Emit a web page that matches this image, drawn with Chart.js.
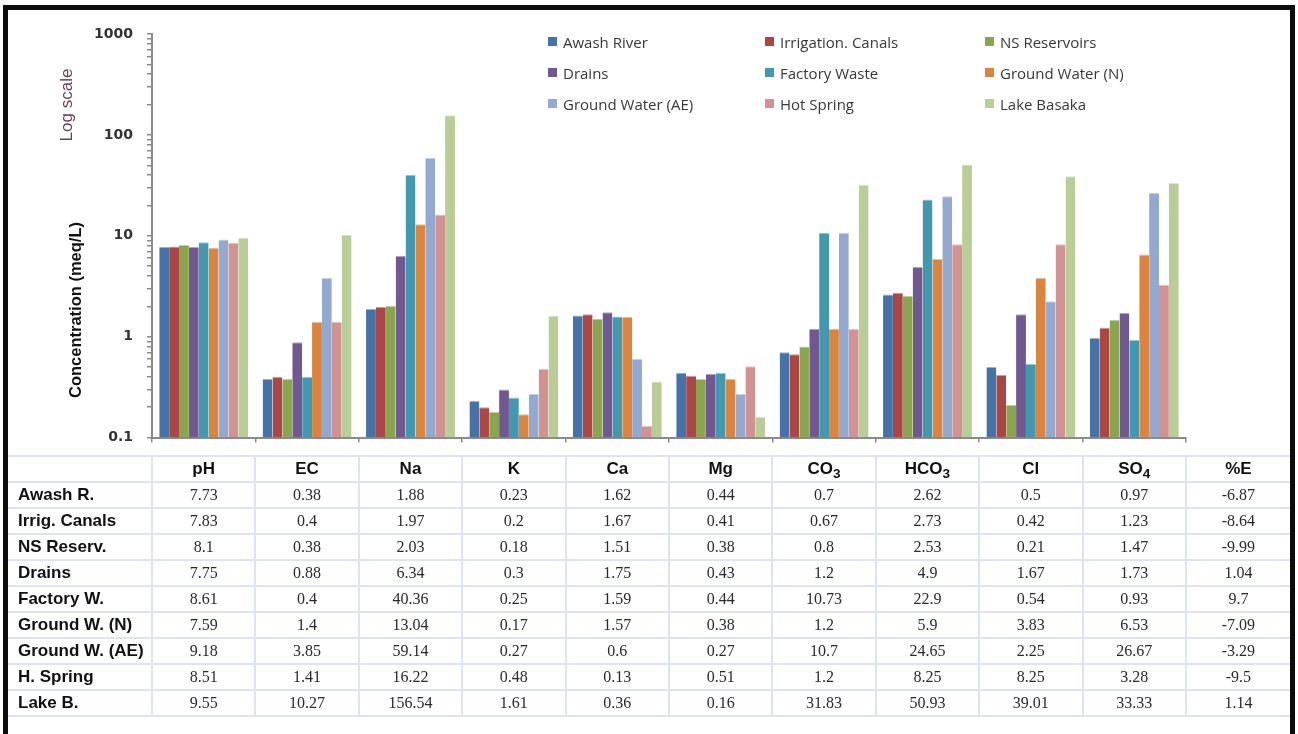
<!DOCTYPE html>
<html>
<head>
<meta charset="utf-8">
<script src="https://cdn.jsdelivr.net/npm/chart.js@4.4.1/dist/chart.umd.min.js"></script>
<style>
  html, body { margin: 0; padding: 0; background: #fff; }
  #page { position: relative; width: 1298px; height: 734px; overflow: hidden; background: #fff; }
  #chartBox { position: absolute; left: 0; top: 0; width: 1298px; height: 460px; }
  #frame { position: absolute; left: 3px; top: 5px; width: 1292px; height: 760px; box-sizing: border-box;
           border: 5px solid #0c0c0c; border-bottom: none; pointer-events: none; }
  .ytitle { position: absolute; white-space: nowrap; transform: translate(-50%, -50%) rotate(-90deg); }
  #yTitle { left: 75px; top: 310px; font: bold 16.5px "Liberation Sans", Arial, sans-serif; color: #111; }
  #logTitle { left: 67px; top: 105px; font: 17px "Liberation Sans", Arial, sans-serif; color: #6a4258; }
  #legend { position: absolute; left: 548px; top: 26px; display: grid;
            grid-template-columns: 217px 220px 200px; grid-auto-rows: 31px;
            font: 15px "Open Sans", sans-serif; color: #383838; }
  #legend .item { display: flex; align-items: center; white-space: nowrap; }
  #legend .sw { width: 9px; height: 9px; margin-right: 6px; flex: none; }
  #dataTable { position: absolute; left: 8px; top: 455px; border-collapse: collapse; table-layout: fixed; }
  #dataTable td, #dataTable th { height: 24px; padding: 0; border-bottom: 2px solid #dfe3ef; }
  #dataTable th { font: bold 17px "Liberation Sans", Arial, sans-serif; color: #111; text-align: center; }
  #dataTable thead th { border-top: 2px solid #dfe3ef; }
  #dataTable td.val { font: 16px "Liberation Serif", "Times New Roman", serif; color: #2a2a2a; text-align: center; }
  #dataTable .sep { border-left: 2px solid #dfe3ef; }
  #dataTable th.rowLabel { text-align: left; padding-left: 10px; font-size: 17px; }
  #dataTable sub { font-size: 0.8em; vertical-align: -0.3em; line-height: 0; }
</style>
</head>
<body>
<div id="page">
  <div id="chartBox"><canvas id="chart"></canvas></div>
  <div id="yTitle" class="ytitle">Concentration (meq/L)</div>
  <div id="logTitle" class="ytitle">Log scale</div>
  <div id="legend"></div>
  <table id="dataTable"></table>
  <div id="frame"></div>
</div>
<script>
// Parameters (columns) and sampling sites (series)
const categories = ['pH', 'EC', 'Na', 'K', 'Ca', 'Mg', 'CO3', 'HCO3', 'Cl', 'SO4'];
const seriesNames = ['Awash River', 'Irrigation. Canals', 'NS Reservoirs', 'Drains', 'Factory Waste',
                     'Ground Water (N)', 'Ground Water (AE)', 'Hot Spring', 'Lake Basaka'];
const rowLabels = ['Awash R.', 'Irrig. Canals', 'NS Reserv.', 'Drains', 'Factory W.',
                   'Ground W. (N)', 'Ground W. (AE)', 'H. Spring', 'Lake B.'];

// Concentrations (meq/L), pH and EC per site
const awashRiver       = [7.73, 0.38, 1.88, 0.23, 1.62, 0.44, 0.7, 2.62, 0.5, 0.97];
const irrigationCanals = [7.83, 0.4, 1.97, 0.2, 1.67, 0.41, 0.67, 2.73, 0.42, 1.23];
const nsReservoirs     = [8.1, 0.38, 2.03, 0.18, 1.51, 0.38, 0.8, 2.53, 0.21, 1.47];
const drains           = [7.75, 0.88, 6.34, 0.3, 1.75, 0.43, 1.2, 4.9, 1.67, 1.73];
const factoryWaste     = [8.61, 0.4, 40.36, 0.25, 1.59, 0.44, 10.73, 22.9, 0.54, 0.93];
const groundWaterN     = [7.59, 1.4, 13.04, 0.17, 1.57, 0.38, 1.2, 5.9, 3.83, 6.53];
const groundWaterAE    = [9.18, 3.85, 59.14, 0.27, 0.6, 0.27, 10.7, 24.65, 2.25, 26.67];
const hotSpring        = [8.51, 1.41, 16.22, 0.48, 0.13, 0.51, 1.2, 8.25, 8.25, 3.28];
const lakeBasaka       = [9.55, 10.27, 156.54, 1.61, 0.36, 0.16, 31.83, 50.93, 39.01, 33.33];

// Ion balance error (%E) per site
const percentE = [-6.87, -8.64, -9.99, 1.04, 9.7, -7.09, -3.29, -9.5, 1.14];

// Labelled decades of the log axis
const yTickLabels = ['0.1', '1', '10', '100', '1000'];

const seriesValues = [awashRiver, irrigationCanals, nsReservoirs, drains, factoryWaste,
                      groundWaterN, groundWaterAE, hotSpring, lakeBasaka];
const seriesColors = ['#4572a7', '#aa4643', '#89a54e', '#71588f', '#4198af',
                      '#db843d', '#93a9cf', '#d19392', '#b9cd96'];

function lighten(hex, f) {
  const n = parseInt(hex.slice(1), 16);
  const c = [(n >> 16) & 255, (n >> 8) & 255, n & 255].map(v => Math.round(v + (255 - v) * f));
  return 'rgb(' + c.join(',') + ')';
}

const datasets = seriesNames.map((name, i) => ({
  label: name,
  data: seriesValues[i],
  backgroundColor: seriesColors[i],
  borderColor: lighten(seriesColors[i], 0.45),
  borderWidth: { top: 1, left: 0, right: 0, bottom: 0 },
  borderSkipped: false
}));

const axisGrey = '#8a8a8a';

const chart = new Chart(document.getElementById('chart'), {
  type: 'bar',
  data: { labels: categories, datasets },
  options: {
    responsive: true,
    maintainAspectRatio: false,
    animation: false,
    layout: { padding: { left: 0, right: 112, top: 34, bottom: 6 } },
    datasets: { bar: { categoryPercentage: 0.86, barPercentage: 1.0 } },
    plugins: { legend: { display: false }, tooltip: { enabled: false } },
    scales: {
      x: {
        type: 'category',
        ticks: { display: false },
        grid: { display: true, drawOnChartArea: false, drawTicks: true, tickLength: 5,
                color: axisGrey, lineWidth: 1.5, offset: true },
        border: { display: true, color: axisGrey, width: 2 },
        afterFit: s => { s.height = 8; }
      },
      y: {
        type: 'logarithmic',
        min: Number(yTickLabels[0]),
        max: Number(yTickLabels[yTickLabels.length - 1]),
        afterBuildTicks: s => {
          const t = [];
          for (let d = 0; d < yTickLabels.length - 1; d++) {
            const base = Number(yTickLabels[d]);
            for (let k = 1; k <= 9; k++) t.push({ value: base * k });
          }
          t.push({ value: Number(yTickLabels[yTickLabels.length - 1]) });
          s.ticks = t;
        },
        ticks: {
          autoSkip: false,
          padding: 14,
          color: '#333',
          font: { family: 'DejaVu Sans', size: 14, weight: 'bold' },
          callback: v => (yTickLabels.includes(String(v)) ? String(v) : '')
        },
        grid: { display: true, drawOnChartArea: false, drawTicks: true, tickLength: 5,
                color: axisGrey, lineWidth: 1.5 },
        border: { display: true, color: axisGrey, width: 2 },
        afterFit: s => { s.width = 152; }
      }
    }
  }
});

// Legend: three columns, filled row by row
const legend = document.getElementById('legend');
seriesNames.forEach((name, i) => {
  const item = document.createElement('div');
  item.className = 'item';
  const sw = document.createElement('span');
  sw.className = 'sw';
  sw.style.background = seriesColors[i];
  item.appendChild(sw);
  item.appendChild(document.createTextNode(name));
  legend.appendChild(item);
});

// Data table under the plot, columns aligned with the category bands
const area = chart.chartArea;
const bandW = (area.right - area.left) / categories.length;
const tableLeft = 8;
const frameInner = 1290;
const table = document.getElementById('dataTable');
const colgroup = document.createElement('colgroup');
const widths = [area.left - tableLeft].concat(categories.map(() => bandW), [frameInner - area.right]);
widths.forEach(w => { const c = document.createElement('col'); c.style.width = w + 'px'; colgroup.appendChild(c); });
table.appendChild(colgroup);
table.style.width = widths.reduce((a, b) => a + b, 0) + 'px';

const fmtHead = s => s.replace(/(\d+)/g, '<sub>$1</sub>');
const thead = document.createElement('thead');
thead.innerHTML = '<tr><th></th>' + categories.map(c => '<th class="sep">' + fmtHead(c) + '</th>').join('') +
                  '<th class="sep">%E</th></tr>';
table.appendChild(thead);
const tbody = document.createElement('tbody');
rowLabels.forEach((lab, r) => {
  const tr = document.createElement('tr');
  let html = '<th class="rowLabel">' + lab + '</th>';
  seriesValues[r].forEach(v => { html += '<td class="val sep">' + String(v) + '</td>'; });
  html += '<td class="val sep">' + String(percentE[r]) + '</td>';
  tr.innerHTML = html;
  tbody.appendChild(tr);
});
table.appendChild(tbody);
</script>
</body>
</html>
